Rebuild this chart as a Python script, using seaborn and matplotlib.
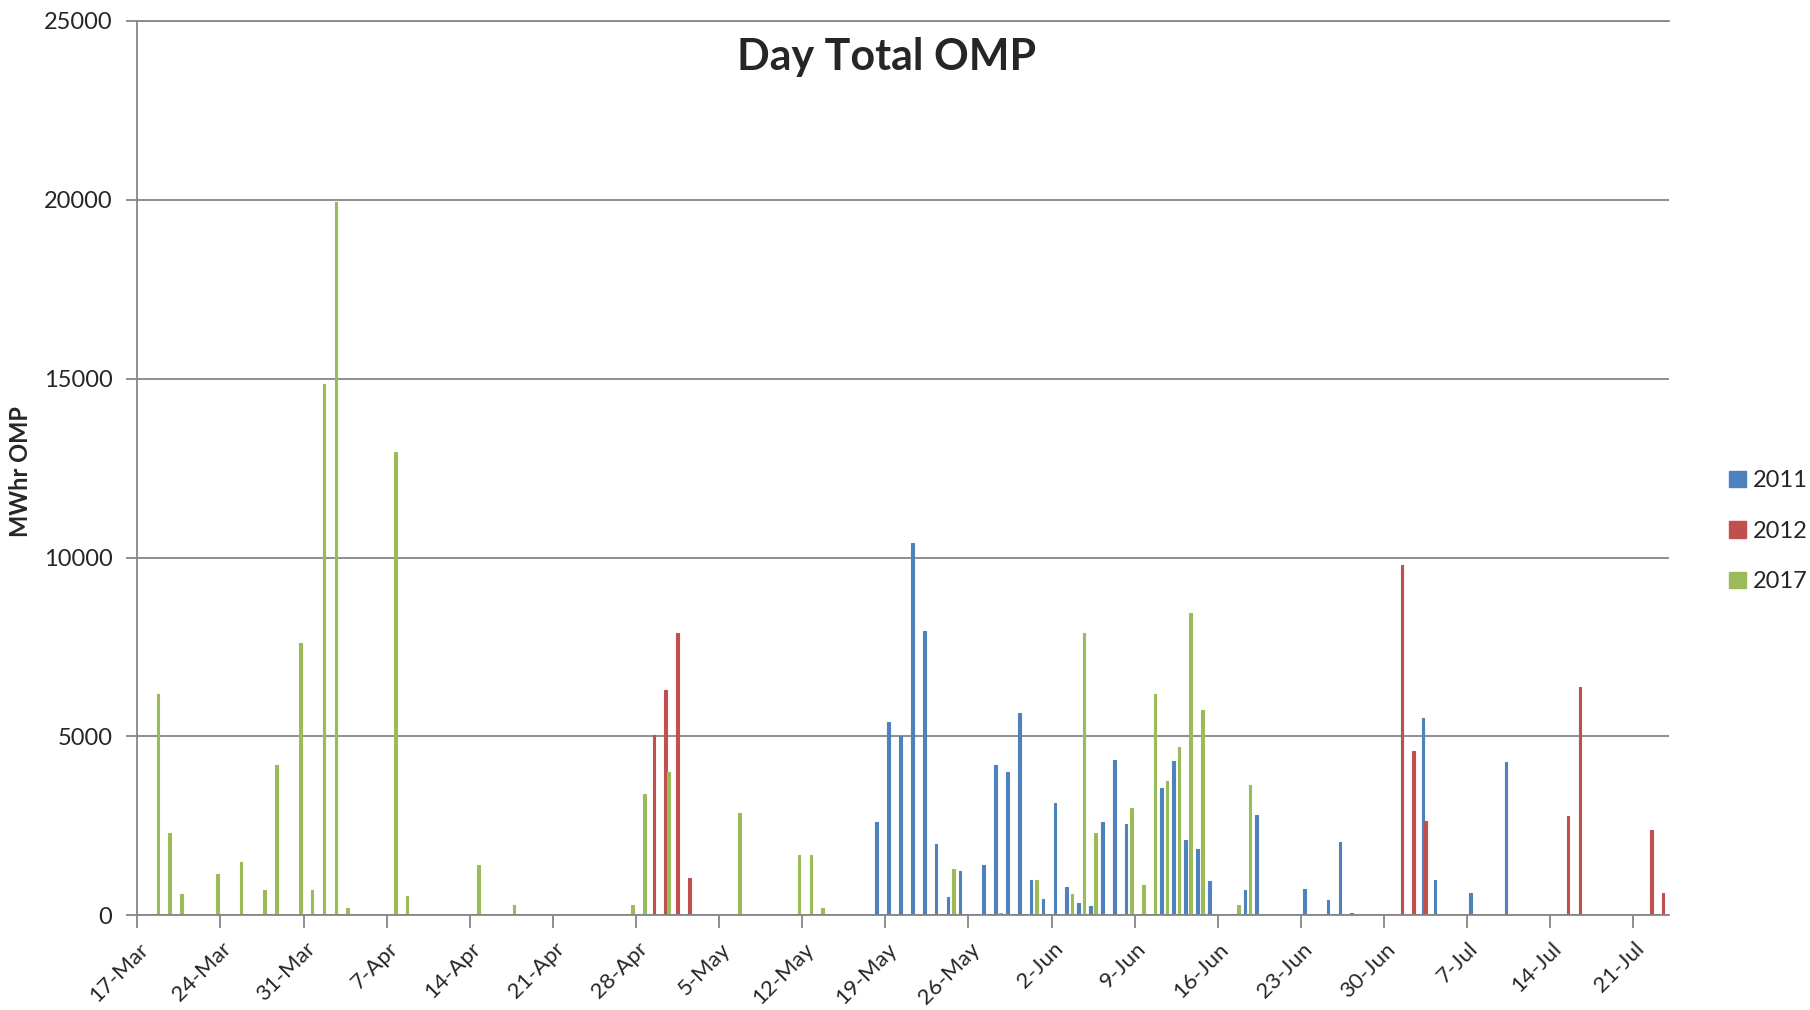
import pandas as pd
import matplotlib
matplotlib.use('Agg')
import matplotlib.pyplot as plt
import seaborn as sns
from matplotlib.patches import Patch
from matplotlib.transforms import ScaledTranslation

years = ['2011', '2012', '2017']
colors = ['#4F81BD', '#C0504D', '#9BBB59']

# 2011 series
dates_2011 = ['18-May', '19-May', '20-May', '21-May', '22-May', '23-May', '24-May', '25-May',
              '26-May', '27-May', '28-May', '29-May', '30-May', '31-May', '1-Jun', '2-Jun',
              '3-Jun', '4-Jun', '5-Jun', '6-Jun', '7-Jun', '8-Jun', '11-Jun', '12-Jun',
              '13-Jun', '14-Jun', '15-Jun', '18-Jun', '19-Jun', '23-Jun', '25-Jun', '26-Jun',
              '27-Jun', '3-Jul', '4-Jul', '7-Jul', '10-Jul']
vals_2011 = [2600, 5400, 5000, 10400, 7950, 2000, 500, 1250,
             50, 1400, 4200, 4000, 5650, 1000, 470, 3150,
             800, 350, 250, 2600, 4350, 2550, 3550, 4300,
             2100, 1850, 950, 720, 2800, 750, 430, 2050,
             80, 5520, 980, 620, 4280]

# 2012 series
dates_2012 = ['29-Apr', '30-Apr', '1-May', '2-May', '1-Jul', '2-Jul', '3-Jul',
              '15-Jul', '16-Jul', '22-Jul', '23-Jul']
vals_2012 = [5050, 6300, 7900, 1050, 9800, 4600, 2630, 2770, 6380, 2380, 620]

# 2017 series
dates_2017 = ['18-Mar', '19-Mar', '20-Mar', '23-Mar', '25-Mar', '27-Mar', '28-Mar', '30-Mar',
              '31-Mar', '1-Apr', '2-Apr', '3-Apr', '7-Apr', '8-Apr', '14-Apr', '17-Apr',
              '27-Apr', '28-Apr', '30-Apr', '6-May', '11-May', '12-May', '13-May', '24-May',
              '27-May', '28-May', '31-May', '3-Jun', '4-Jun', '5-Jun', '8-Jun', '9-Jun',
              '10-Jun', '11-Jun', '12-Jun', '13-Jun', '14-Jun', '17-Jun', '18-Jun']
vals_2017 = [6200, 2300, 600, 1150, 1500, 700, 4200, 7600,
             700, 14850, 19950, 200, 12950, 550, 1400, 300,
             300, 3400, 4000, 2850, 1700, 1700, 200, 1300,
             30, 80, 1000, 600, 7900, 2300, 3000, 850,
             6200, 3750, 4700, 8450, 5750, 300, 3650]

days = pd.date_range('2017-03-17', '2017-07-23')
day_labels = [f"{d.day}-{d.strftime('%b')}" for d in days]

rows = []
for yr, ds, vs in zip(years, [dates_2011, dates_2012, dates_2017], [vals_2011, vals_2012, vals_2017]):
    for d, v in zip(ds, vs):
        rows.append((d, yr, v))
df = pd.DataFrame(rows, columns=['Day', 'Year', 'MWhr'])

sns.set_style('white')
plt.rcParams['font.family'] = ['Lato', 'DejaVu Sans']

fig = plt.figure(figsize=(18.1, 10.1), dpi=100)
ax = fig.add_axes([0.0759, 0.0937, 0.8462, 0.8857])

sns.barplot(data=df, x='Day', y='MWhr', hue='Year', order=day_labels, hue_order=years,
            palette=colors, saturation=1, width=0.667, dodge=True, errorbar=None,
            legend=False, ax=ax)
# thicken the thin bars a little, like the Excel rendering
for p in ax.patches:
    p.set_edgecolor(p.get_facecolor())
    p.set_linewidth(0.8)

grey = '#868686'
ax.set_xlim(-0.5, len(day_labels) - 0.5)
ax.set_ylim(0, 25000)
ax.set_yticks(range(0, 25001, 5000))
ax.yaxis.grid(True, color=grey, lw=1.3)
ax.set_axisbelow(True)
for s in ['left', 'bottom', 'top']:
    ax.spines[s].set_color(grey)
    ax.spines[s].set_linewidth(1.3)
ax.spines['right'].set_visible(False)

tick_pos = [i - 0.5 for i in range(0, len(day_labels), 7)]
ax.set_xticks(tick_pos)
ax.set_xticklabels(day_labels[::7], rotation=45, ha='right', va='center', rotation_mode='anchor')
ax.tick_params(axis='x', bottom=True, length=9, width=1.3, color=grey, pad=13, labelsize=16)
ax.tick_params(axis='y', left=True, length=8, width=1.3, color=grey, pad=10, labelsize=17)
for lbl in ax.get_xticklabels():
    lbl.set_transform(lbl.get_transform() + ScaledTranslation(0.08, 0, fig.dpi_scale_trans))
ax.set_xlabel('')
ax.set_ylabel('')

fig.text(0.49, 0.944, 'Day Total OMP', fontsize=31, fontweight='bold', ha='center', va='center')
fig.text(0.0116, 0.533, 'MWhr OMP', rotation=90, fontsize=17, fontweight='bold', ha='center', va='center')

handles = [Patch(color=c, label=y) for c, y in zip(colors, years)]
fig.legend(handles=handles, loc='center left', bbox_to_anchor=(0.9553, 0.474), frameon=False,
           fontsize=17, handlelength=0.7, handleheight=0.7, handletextpad=0.3,
           labelspacing=1.25, borderaxespad=0, borderpad=0)

fig.savefig('out.png', dpi=100)
